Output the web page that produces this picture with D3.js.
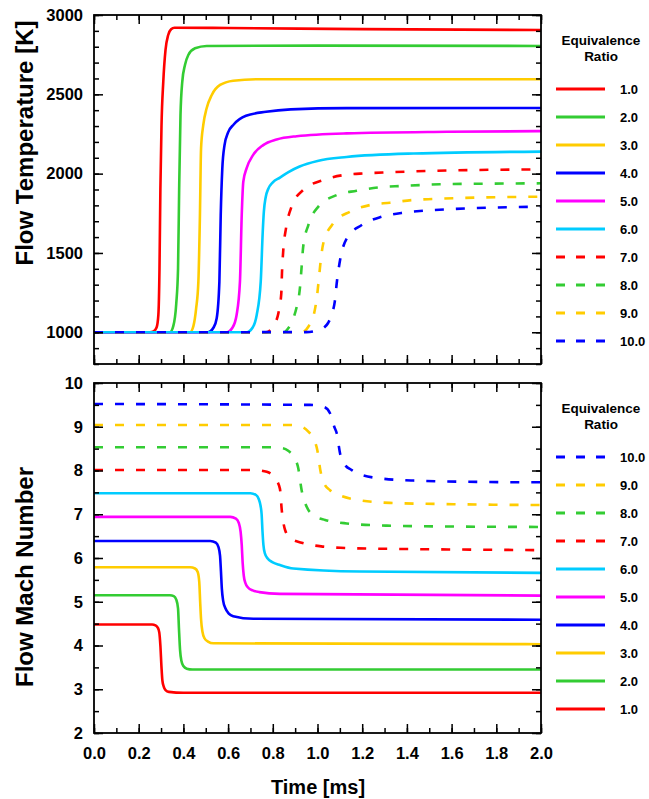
<!DOCTYPE html>
<html lang="en">
<head>
<meta charset="UTF-8">
<title>Flow Temperature and Mach Number</title>
<script src="https://d3js.org/d3.v7.min.js"></script>
<style>
  body { margin: 0; background: #fff; font-family: "Liberation Sans", Arial, Helvetica, sans-serif; }
  svg text { font-weight: bold; fill: #000; }
  .tick text { font-size: 16.5px; }
  .legend text { font-size: 13px; }
</style>
</head>
<body>
<div id="chart"></div>
<script>
// equivalence ratios and their line styles
const ratios = ["1.0", "2.0", "3.0", "4.0", "5.0", "6.0", "7.0", "8.0", "9.0", "10.0"];
const colors = ["#ff0000", "#33cc33", "#ffcc00", "#0000ff", "#ff00ff", "#00ccff",
                "#ff0000", "#33cc33", "#ffcc00", "#0000ff"];
const dashed = [false, false, false, false, false, false, true, true, true, true];

// flow temperature [K] vs time [ms], one list per ratio
const tempCurves = [
  [[0,1000],[0.25,1000],[0.266,1005],[0.28,1030],[0.288,1110],[0.293,1400],[0.297,1900],[0.302,2300],[0.31,2580],[0.32,2780],[0.332,2874],[0.345,2910],[0.36,2920],[0.6,2918],[1.2,2911],[2.0,2905]],
  [[0,1000],[0.34,1000],[0.355,1040],[0.368,1180],[0.376,1400],[0.381,1900],[0.387,2370],[0.395,2580],[0.407,2685],[0.422,2748],[0.452,2790],[0.504,2805],[1.0,2807],[2.0,2805]],
  [[0,1000],[0.43,1000],[0.445,1040],[0.457,1150],[0.467,1319],[0.474,1739],[0.479,2160],[0.489,2307],[0.504,2412],[0.527,2496],[0.564,2559],[0.623,2586],[0.728,2595],[2.0,2595]],
  [[0,1000],[0.51,1000],[0.535,1030],[0.549,1088],[0.561,1319],[0.567,1739],[0.574,2030],[0.584,2180],[0.6,2260],[0.625,2310],[0.68,2365],[0.77,2390],[0.88,2405],[1.13,2413],[2.0,2414]],
  [[0,1000],[0.594,1000],[0.62,1030],[0.638,1109],[0.653,1319],[0.661,1739],[0.668,1949],[0.683,2034],[0.713,2120],[0.757,2180],[0.817,2215],[0.907,2236],[1.13,2254],[1.58,2264],[2.0,2268]],
  [[0,1000],[0.683,1000],[0.71,1030],[0.728,1109],[0.746,1319],[0.755,1634],[0.76,1760],[0.768,1850],[0.78,1905],[0.8,1945],[0.832,1975],[0.87,2010],[0.92,2045],[1.0,2080],[1.13,2105],[1.43,2127],[2.0,2139]],
  [[0,1000],[0.77,1000],[0.8,1030],[0.815,1070],[0.825,1120],[0.838,1245],[0.841,1372],[0.847,1519],[0.859,1655],[0.884,1792],[0.936,1897],[1.026,1960],[1.116,1991],[1.213,2002],[1.31,2008],[1.5,2017],[2.0,2027]],
  [[0,1000],[0.85,1000],[0.869,1025],[0.895,1100],[0.907,1161],[0.922,1287],[0.929,1413],[0.936,1539],[0.959,1676],[1.004,1792],[1.086,1865],[1.175,1892],[1.28,1914],[1.369,1922],[1.459,1928],[1.548,1933],[2.0,1939]],
  [[0,1000],[0.93,1000],[0.959,1035],[0.985,1120],[0.998,1230],[1.007,1350],[1.015,1460],[1.026,1561],[1.071,1687],[1.145,1760],[1.235,1802],[1.324,1817],[1.429,1834],[1.518,1840],[2.0,1855]],
  [[0,1000],[0.95,1001],[1.0,1012],[1.03,1030],[1.048,1060],[1.068,1130],[1.078,1200],[1.086,1309],[1.101,1455],[1.131,1592],[1.198,1676],[1.287,1728],[1.384,1754],[1.473,1766],[1.578,1775],[2.0,1792]]
];

// flow Mach number vs time [ms], one list per ratio
const machCurves = [
  [[0,4.48],[0.26,4.48],[0.275,4.46],[0.285,4.41],[0.292,4.3],[0.297,4.0],[0.302,3.5],[0.306,3.2],[0.312,3.06],[0.32,2.98],[0.335,2.94],[0.4,2.92],[2.0,2.92]],
  [[0,5.15],[0.34,5.15],[0.357,5.13],[0.368,5.05],[0.376,4.85],[0.38,4.4],[0.385,3.9],[0.391,3.65],[0.4,3.53],[0.415,3.47],[0.44,3.45],[2.0,3.45]],
  [[0,5.79],[0.43,5.79],[0.452,5.76],[0.464,5.68],[0.471,5.45],[0.475,5.0],[0.479,4.6],[0.485,4.32],[0.495,4.16],[0.51,4.09],[0.534,4.05],[2.0,4.03]],
  [[0,6.39],[0.52,6.39],[0.545,6.35],[0.557,6.25],[0.564,6.05],[0.568,5.7],[0.572,5.3],[0.578,5.02],[0.588,4.85],[0.603,4.73],[0.623,4.67],[0.713,4.61],[2.0,4.59]],
  [[0,6.94],[0.61,6.94],[0.635,6.9],[0.648,6.8],[0.656,6.6],[0.661,6.3],[0.665,5.9],[0.67,5.6],[0.678,5.42],[0.69,5.32],[0.71,5.26],[0.74,5.22],[0.832,5.18],[2.0,5.14]],
  [[0,7.48],[0.7,7.48],[0.725,7.44],[0.737,7.35],[0.745,7.2],[0.75,7.0],[0.754,6.6],[0.758,6.3],[0.765,6.1],[0.777,5.99],[0.8,5.9],[0.832,5.84],[0.892,5.76],[1.19,5.69],[2.0,5.66]],
  [[0,8.01],[0.72,8.01],[0.773,7.97],[0.81,7.82],[0.832,7.58],[0.84,7.1],[0.855,6.64],[0.88,6.45],[0.929,6.35],[1.026,6.26],[1.123,6.23],[1.31,6.21],[1.488,6.2],[2.0,6.18]],
  [[0,8.53],[0.8,8.53],[0.845,8.51],[0.869,8.45],[0.895,8.3],[0.914,8.05],[0.929,7.55],[0.945,7.25],[0.959,7.1],[0.99,6.95],[1.034,6.87],[1.131,6.79],[1.31,6.74],[1.578,6.72],[2.0,6.71]],
  [[0,9.04],[0.88,9.04],[0.93,9.0],[0.959,8.89],[0.985,8.7],[0.999,8.47],[1.014,7.97],[1.03,7.7],[1.056,7.55],[1.1,7.43],[1.145,7.36],[1.324,7.26],[1.608,7.23],[2.0,7.21]],
  [[0,9.52],[0.966,9.5],[1.03,9.45],[1.056,9.31],[1.075,9.0],[1.086,8.85],[1.101,8.39],[1.12,8.15],[1.153,8.01],[1.25,7.84],[1.429,7.77],[1.712,7.74],[2.0,7.73]]
];

// tick values
const timeMajor = [0, 0.2, 0.4, 0.6, 0.8, 1.0, 1.2, 1.4, 1.6, 1.8, 2.0];
const timeMinor = d3.range(0, 2.001, 0.1);
const tempMajor = [1000, 1500, 2000, 2500, 3000];
const tempMinor = d3.range(800, 3001, 100);
const machMajor = [2, 3, 4, 5, 6, 7, 8, 9, 10];
const machMinor = d3.range(2, 10.01, 0.5);

const W = 649, H = 799;
const svg = d3.select("#chart").append("svg")
  .attr("width", W).attr("height", H);

const x = d3.scaleLinear().domain([0, 2]).range([94, 541]);
const yTemp = d3.scaleLinear().domain([800, 3000]).range([364, 15]);
const yMach = d3.scaleLinear().domain([2, 10]).range([733, 383]);

const MAJ = 9, MIN = 5;

function panel(y, major, minor, curves, fmt, showX) {
  const [y0, y1] = y.range();   // bottom, top
  const g = svg.append("g");

  // curves
  const line = d3.line().x(d => x(d[0])).y(d => y(d[1])).curve(d3.curveMonotoneX);
  g.append("g").selectAll("path")
    .data(curves)
    .join("path")
    .attr("d", line)
    .attr("fill", "none")
    .attr("stroke", (d, i) => colors[i])
    .attr("stroke-width", 2.6)
    .attr("stroke-dasharray", (d, i) => dashed[i] ? "9,12" : null);

  // bottom axis (ticks inward)
  g.append("g").attr("transform", `translate(0,${y0})`)
    .call(d3.axisBottom(x).tickValues(timeMinor).tickSizeInner(-MIN).tickSizeOuter(0).tickFormat(""));
  g.append("g").attr("transform", `translate(0,${y0})`)
    .call(d3.axisBottom(x).tickValues(timeMajor).tickSizeInner(-MAJ).tickSizeOuter(0)
      .tickPadding(14).tickFormat(showX ? d3.format(".1f") : ""));
  // top axis
  g.append("g").attr("transform", `translate(0,${y1})`)
    .call(d3.axisTop(x).tickValues(timeMinor).tickSizeInner(-MIN).tickSizeOuter(0).tickFormat(""));
  g.append("g").attr("transform", `translate(0,${y1})`)
    .call(d3.axisTop(x).tickValues(timeMajor).tickSizeInner(-MAJ).tickSizeOuter(0).tickFormat(""));
  // left axis
  g.append("g").attr("transform", `translate(${x(0)},0)`)
    .call(d3.axisLeft(y).tickValues(minor).tickSizeInner(-MIN).tickSizeOuter(0).tickFormat(""));
  g.append("g").attr("transform", `translate(${x(0)},0)`)
    .call(d3.axisLeft(y).tickValues(major).tickSizeInner(-MAJ).tickSizeOuter(0)
      .tickPadding(11).tickFormat(fmt));
  // right axis
  g.append("g").attr("transform", `translate(${x(2)},0)`)
    .call(d3.axisRight(y).tickValues(minor).tickSizeInner(-MIN).tickSizeOuter(0).tickFormat(""));
  g.append("g").attr("transform", `translate(${x(2)},0)`)
    .call(d3.axisRight(y).tickValues(major).tickSizeInner(-MAJ).tickSizeOuter(0).tickFormat(""));

  g.selectAll(".domain").remove();
  g.selectAll(".tick line").attr("stroke", "#000").attr("stroke-width", 1.5);
  g.selectAll(".tick text").attr("font-family", null).attr("font-size", null);

  // frame
  g.append("rect")
    .attr("x", x(0)).attr("y", y1)
    .attr("width", x(2) - x(0)).attr("height", y0 - y1)
    .attr("fill", "none").attr("stroke", "#000").attr("stroke-width", 1.8);
}

panel(yTemp, tempMajor, tempMinor, tempCurves, d3.format("d"), false);
panel(yMach, machMajor, machMinor, machCurves, d3.format("d"), true);

// axis titles
svg.append("text")
  .attr("transform", "translate(33,143) rotate(-90)")
  .attr("text-anchor", "middle")
  .style("font-size", "24px")
  .text("Flow Temperature [K]");
svg.append("text")
  .attr("transform", "translate(33,577) rotate(-90)")
  .attr("text-anchor", "middle")
  .style("font-size", "24px")
  .text("Flow Mach Number");
svg.append("text")
  .attr("x", 318).attr("y", 794)
  .attr("text-anchor", "middle")
  .style("font-size", "20px")
  .text("Time [ms]");

// legends
function legend(top, order) {
  const g = svg.append("g").attr("class", "legend");
  g.append("text").attr("x", 601).attr("y", top)
    .attr("text-anchor", "middle").style("font-size", "13.5px").text("Equivalence");
  g.append("text").attr("x", 601).attr("y", top + 16)
    .attr("text-anchor", "middle").style("font-size", "13.5px").text("Ratio");
  const rows = g.selectAll(".row").data(order).join("g")
    .attr("class", "row")
    .attr("transform", (d, k) => `translate(0,${top + 44 + k * 28})`);
  rows.append("line")
    .attr("x1", 556).attr("x2", 605)
    .attr("stroke", i => colors[i])
    .attr("stroke-width", 2.8)
    .attr("stroke-dasharray", i => dashed[i] ? "9,11" : null);
  rows.append("text")
    .attr("x", 620).attr("dy", "0.36em")
    .text(i => ratios[i]);
}
legend(45, d3.range(10));
legend(413, d3.range(9, -1, -1));
</script>
</body>
</html>
